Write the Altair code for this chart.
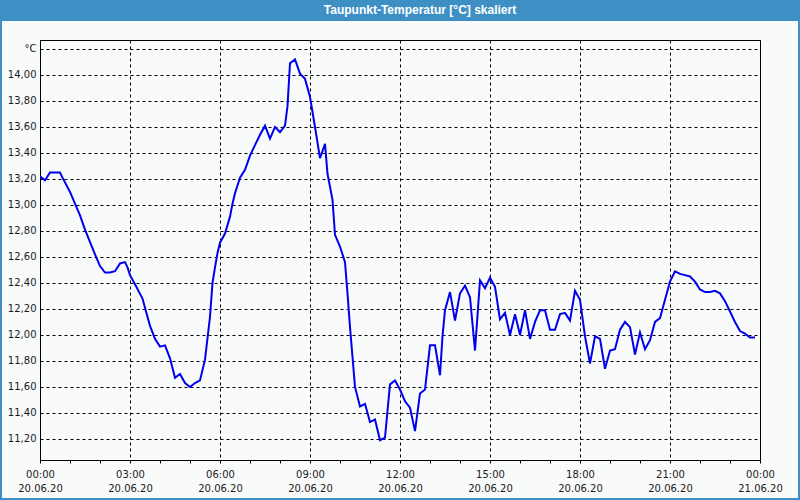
import altair as alt
import pandas as pd

# time of day in minutes after 20.06.20 00:00
minutes = [0, 10, 20, 40, 45, 60, 70, 80, 90, 110, 120, 130, 140, 150, 160, 170, 175, 180,
           190, 205, 210, 220, 230, 240, 250, 260, 270, 280, 290, 300, 310, 320, 330, 340,
           345, 350, 355, 360, 370, 380, 385, 390, 400, 410, 420, 430, 440, 450, 460, 470,
           480, 490, 495, 500, 510, 520, 530, 540, 550, 560, 570, 575, 585, 590, 600, 610,
           615, 620, 630, 640, 650, 660, 670, 680, 690, 700, 710, 720, 730, 740, 750, 760,
           770, 780, 790, 800, 805, 810, 820, 830, 840, 850, 860, 870, 880, 890, 900, 910,
           920, 930, 940, 950, 960, 970, 980, 990, 1000, 1010, 1020, 1030, 1040, 1050, 1060,
           1070, 1080, 1090, 1100, 1110, 1120, 1130, 1140, 1150, 1160, 1170, 1180, 1190,
           1200, 1210, 1220, 1230, 1240, 1250, 1260, 1270, 1280, 1290, 1300, 1310, 1320,
           1330, 1340, 1350, 1360, 1370, 1380, 1390, 1400, 1410, 1420, 1430]
dewpoint = [13.22, 13.19, 13.25, 13.25, 13.21, 13.10, 13.01, 12.92, 12.81, 12.62, 12.53, 12.48,
            12.48, 12.49, 12.55, 12.56, 12.52, 12.46, 12.39, 12.28, 12.21, 12.07, 11.97, 11.91,
            11.92, 11.82, 11.67, 11.70, 11.63, 11.60, 11.63, 11.65, 11.81, 12.14, 12.40, 12.52,
            12.63, 12.71, 12.78, 12.91, 13.01, 13.09, 13.21, 13.27, 13.38, 13.46, 13.54, 13.61,
            13.51, 13.60, 13.56, 13.61, 13.76, 14.09, 14.12, 14.01, 13.97, 13.83, 13.60, 13.36,
            13.47, 13.24, 13.04, 12.77, 12.68, 12.56, 12.32, 12.06, 11.60, 11.45, 11.47, 11.33,
            11.35, 11.19, 11.21, 11.62, 11.65, 11.58, 11.49, 11.44, 11.26, 11.55, 11.58, 11.92,
            11.92, 11.69, 11.99, 12.19, 12.33, 12.11, 12.32, 12.38, 12.29, 11.88, 12.42, 12.36,
            12.44, 12.37, 12.12, 12.17, 12.00, 12.16, 12.00, 12.19, 11.97, 12.10, 12.19, 12.19,
            12.04, 12.04, 12.16, 12.17, 12.11, 12.34, 12.27, 11.99, 11.78, 11.99, 11.97, 11.74,
            11.88, 11.89, 12.04, 12.10, 12.06, 11.85, 12.02, 11.89, 11.96, 12.10, 12.13, 12.27,
            12.41, 12.49, 12.47, 12.46, 12.45, 12.41, 12.35, 12.33, 12.33, 12.34, 12.32, 12.26,
            12.18, 12.10, 12.03, 12.01, 11.98, 11.98]

y_ticks = [11.2, 11.4, 11.6, 11.8, 12.0, 12.2, 12.4, 12.6, 12.8, 13.0, 13.2, 13.4, 13.6, 13.8, 14.0, 14.2]
x_ticks = list(range(0, 1441, 60))
title_text = ["Taupunkt-Temperatur [°C] skaliert"]

FONT = "DejaVu Sans"
FRAME_BLUE = "#3d8fc4"
LABEL = "#1a1a1a"

df = pd.DataFrame({"minute": minutes, "value": dewpoint})
one = pd.DataFrame({"t": title_text})

x_axis = alt.Axis(
    values=x_ticks, title=None, domain=False,
    tickSize=3, tickColor="black", tickWidth=1,
    grid=True, gridColor="black", gridDash=[3, 3], gridWidth=1,
    gridOpacity={"condition": {"test": "datum.value % 180 === 0", "value": 1}, "value": 0},
    labelExpr="datum.value % 180 === 0 ? [(floor(datum.value/60) % 24 < 10 ? '0' : '') + (floor(datum.value/60) % 24) + ':00', datum.value < 1440 ? '20.06.20' : '21.06.20'] : ''",
    labelFont=FONT, labelFontSize=10, labelColor=LABEL, labelPadding=6,
    labelLineHeight=14, labelOverlap=False, labelFlush=False, labelBaseline="top",
)
y_axis = alt.Axis(
    values=y_ticks, title=None, domain=False, ticks=False,
    grid=True, gridColor="black", gridDash=[3, 3], gridWidth=1, gridOpacity=1,
    labelExpr="datum.value > 14.1 ? '°C' : replace(format(datum.value, '.2f'), '.', ',')",
    labelFont=FONT, labelFontSize=10, labelColor=LABEL, labelPadding=4,
    labelOverlap=False, labelFlush=False,
)

line = alt.Chart(df).mark_line(color="#0000ee", strokeWidth=2, clip=True).encode(
    x=alt.X("minute:Q", scale=alt.Scale(domain=[0, 1440], nice=False, zero=False), axis=x_axis),
    y=alt.Y("value:Q", scale=alt.Scale(domain=[11.038, 14.269], nice=False, zero=False), axis=y_axis),
)

bar = alt.Chart(one).mark_rect(color=FRAME_BLUE).encode(
    x=alt.value(-40), x2=alt.value(760), y=alt.value(-40), y2=alt.value(-19)
)
border = alt.Chart(one).mark_rect(fillOpacity=0, stroke=FRAME_BLUE, strokeWidth=2).encode(
    x=alt.value(-39), x2=alt.value(759), y=alt.value(-40), y2=alt.value(459)
)
title = alt.Chart(one).mark_text(
    color="white", font="Liberation Sans", fontSize=12, fontWeight="bold",
    align="center", baseline="alphabetic"
).encode(x=alt.value(380), y=alt.value(-26), text="t:N")

chart = alt.layer(bar, border, line, title).properties(
    width=720, height=420,
    background="#f9fbfb",
    padding={"left": 40, "top": 40, "right": 40, "bottom": 40},
    autosize=alt.AutoSizeParams(type="none"),
).configure_view(stroke="black", strokeWidth=1)

chart.save("out.html", embed_options={"renderer": "svg", "actions": False})
